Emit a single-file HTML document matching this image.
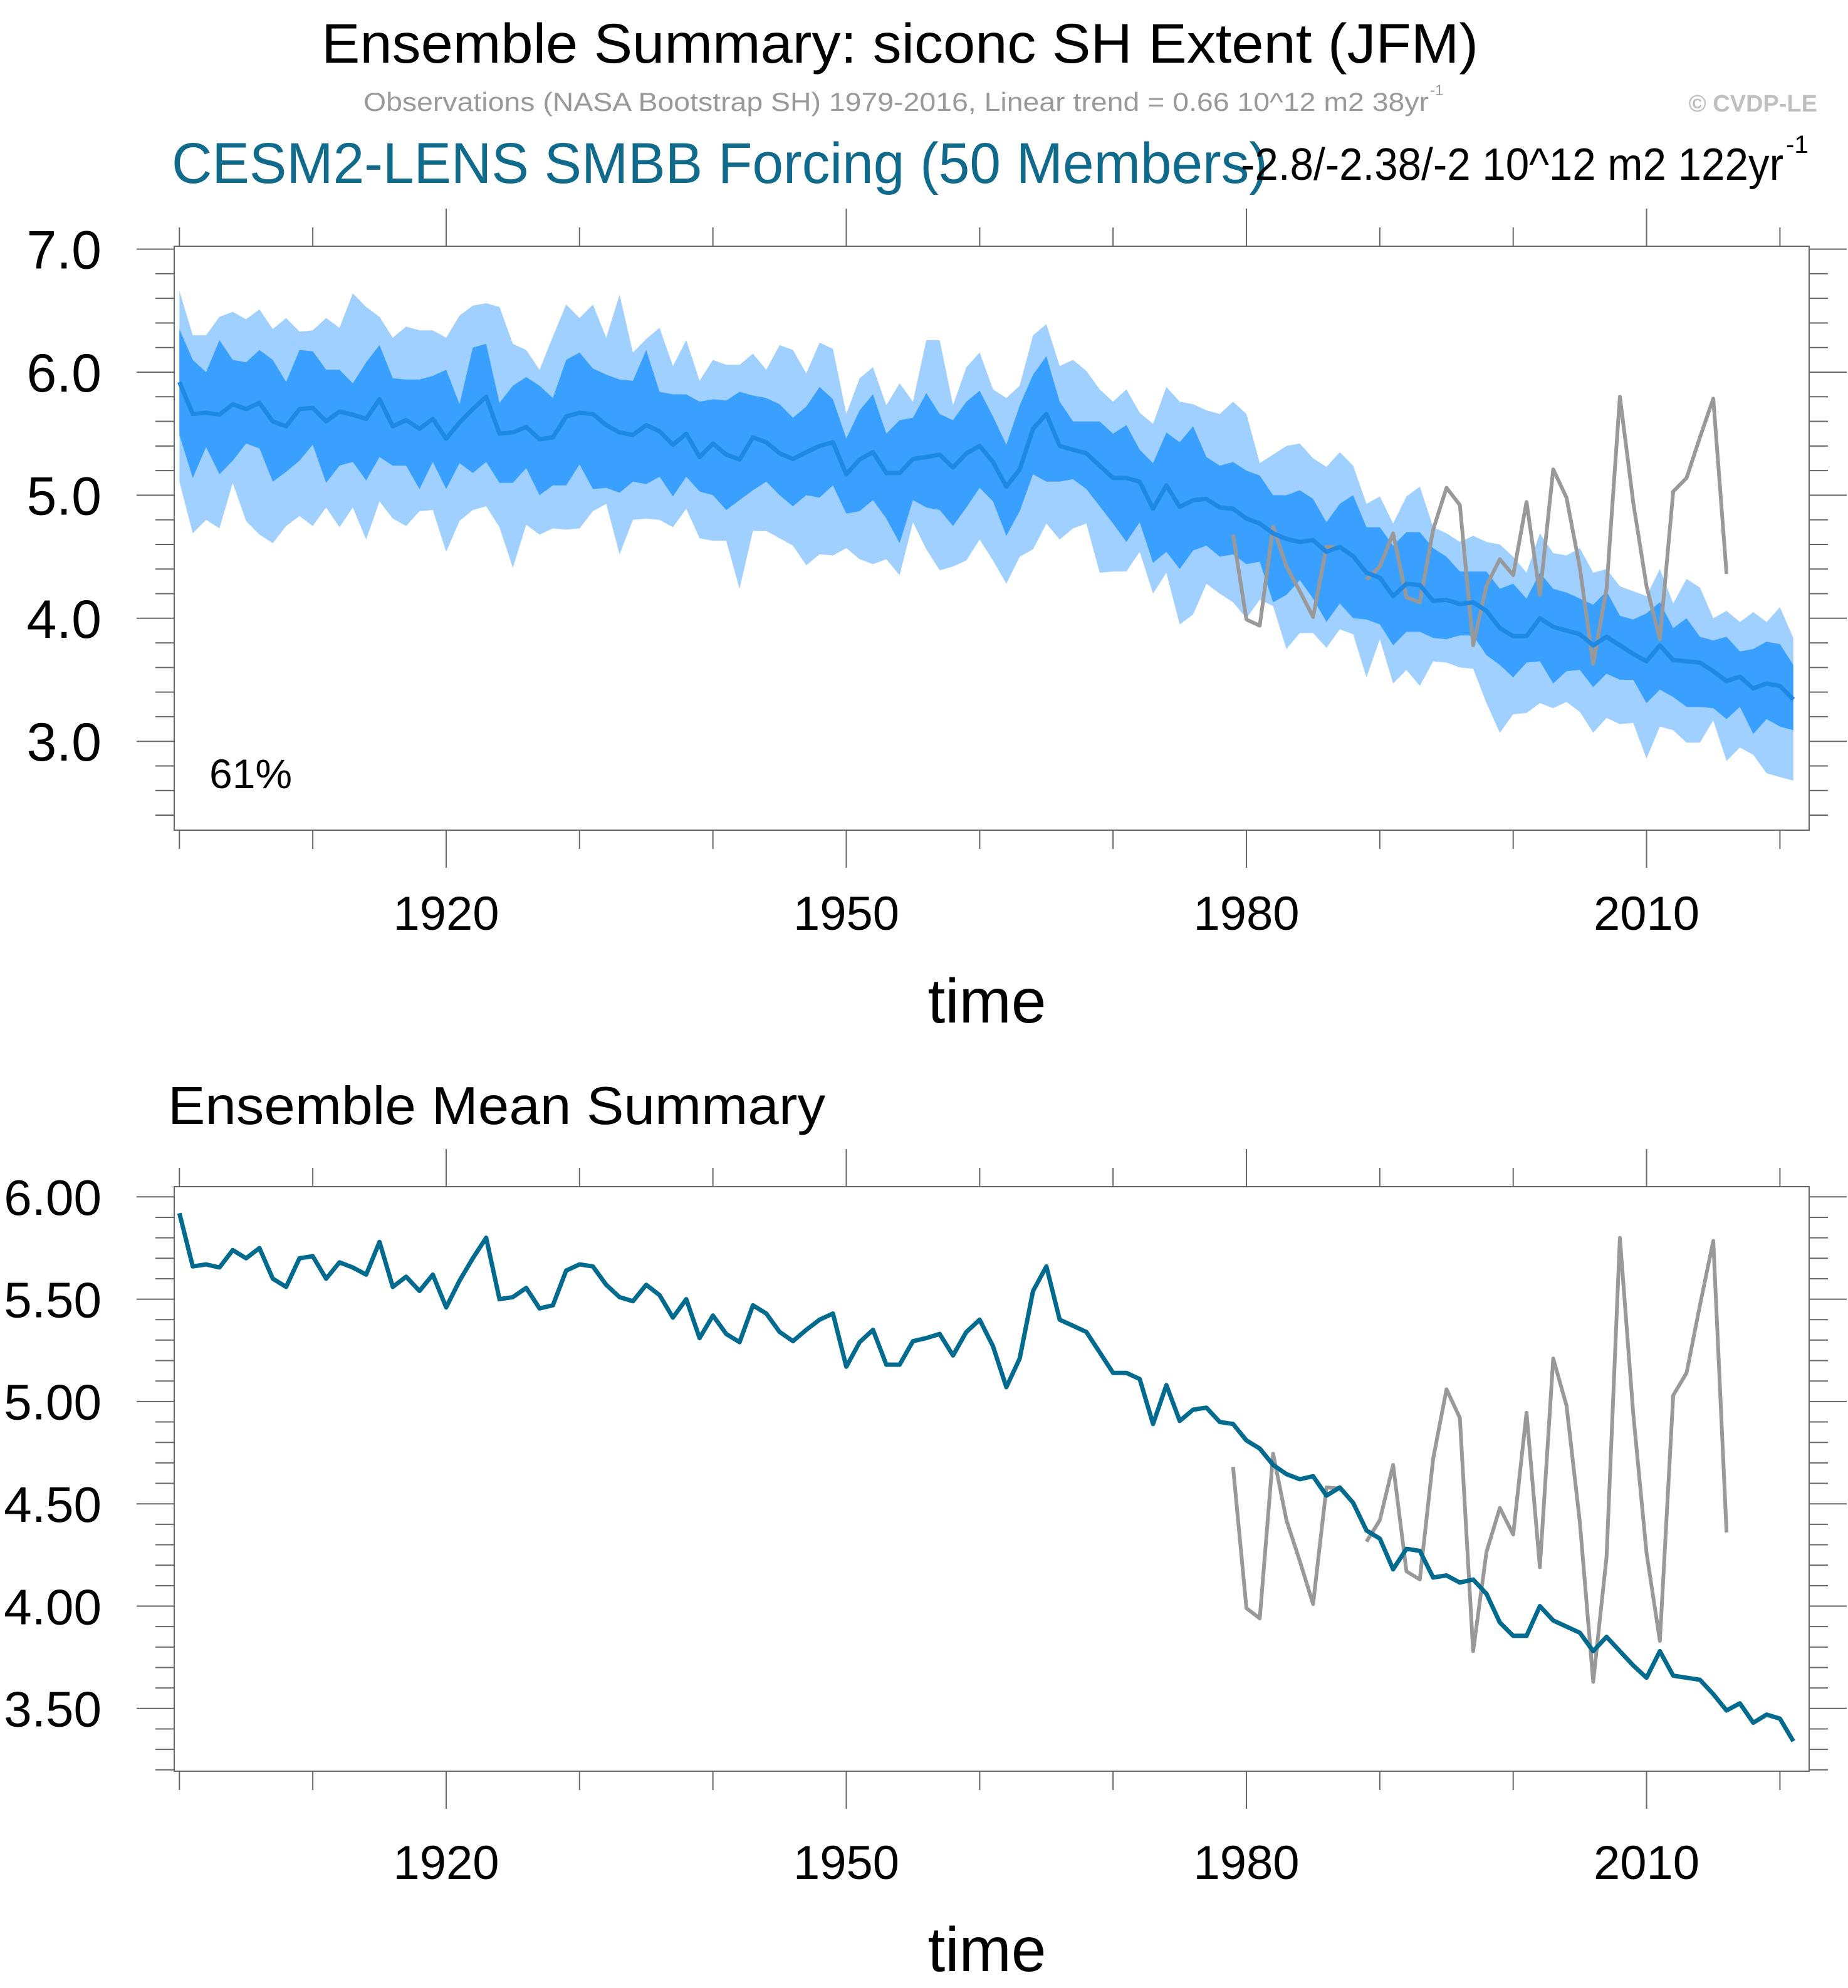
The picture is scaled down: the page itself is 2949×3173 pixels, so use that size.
<!DOCTYPE html>
<html><head><meta charset="utf-8"><title>Ensemble Summary: siconc SH Extent (JFM)</title>
<style>
html,body{margin:0;padding:0;background:#fff;}
svg{display:block;font-family:"Liberation Sans",Arial,sans-serif;}
</style></head>
<body>
<svg id="chart" width="2949" height="3173" viewBox="0 0 2949 3173" xmlns="http://www.w3.org/2000/svg">
  <rect x="0" y="0" width="2949" height="3173" fill="#fff"/>
  <text x="513" y="100" font-size="89" textLength="1846" lengthAdjust="spacingAndGlyphs" fill="#000">Ensemble Summary: siconc SH Extent (JFM)</text>
  <text x="580" y="177" font-size="42" fill="#999" textLength="1700" lengthAdjust="spacingAndGlyphs">Observations (NASA Bootstrap SH) 1979-2016, Linear trend = 0.66 10^12 m2 38yr</text>
  <text x="2282" y="152" font-size="24" fill="#999">-1</text>
  <text x="2900" y="178" font-size="38" font-weight="bold" fill="#c0c0c0" text-anchor="end">© CVDP-LE</text>
  <text x="274" y="292" font-size="92" fill="#0f6a8c" textLength="1749" lengthAdjust="spacingAndGlyphs">CESM2-LENS SMBB Forcing (50 Members)</text>
  <text x="1980" y="287" font-size="72" fill="#000" textLength="866" lengthAdjust="spacingAndGlyphs">-2.8/-2.38/-2 10^12 m2 122yr</text>
  <text x="2850" y="244" font-size="40" fill="#000">-1</text>
  <text x="268" y="1794" font-size="85" fill="#000" textLength="1049" lengthAdjust="spacingAndGlyphs">Ensemble Mean Summary</text>
  <g id="top-panel"></g>
  <g id="bottom-panel"></g>
</svg>
<script>
const years = [];
for (let y = 1900; y <= 2021; y++) years.push(y);
const ensMean = [5.92,5.66,5.67,5.655,5.74,5.70,5.75,5.60,5.56,5.70,5.71,5.60,5.68,5.655,5.62,5.78,5.56,5.61,5.54,5.62,
5.46,5.59,5.70,5.80,5.50,5.51,5.555,5.455,5.47,5.64,5.67,5.66,5.57,5.51,5.49,5.57,5.52,5.41,5.50,5.31,
5.42,5.33,5.29,5.47,5.43,5.34,5.295,5.35,5.40,5.43,5.17,5.29,5.35,5.18,5.18,5.295,5.31,5.33,5.225,5.34,
5.40,5.27,5.07,5.21,5.54,5.66,5.40,5.37,5.34,5.24,5.14,5.14,5.11,4.89,5.08,4.905,4.96,4.97,4.90,4.89,
4.81,4.77,4.69,4.645,4.62,4.635,4.54,4.58,4.505,4.37,4.33,4.18,4.28,4.27,4.14,4.15,4.115,4.13,4.06,3.92,
3.855,3.855,4.00,3.93,3.90,3.87,3.78,3.85,3.78,3.71,3.65,3.78,3.66,3.65,3.64,3.57,3.49,3.525,3.43,3.47,
3.45,3.34];
const lightHi = [6.66,6.30,6.30,6.45,6.49,6.43,6.51,6.35,6.44,6.33,6.34,6.44,6.36,6.64,6.53,6.45,6.28,6.37,6.34,6.34,
6.28,6.46,6.54,6.56,6.53,6.23,6.18,6.02,6.29,6.55,6.44,6.55,6.28,6.63,6.16,6.27,6.36,6.05,6.26,5.93,
6.10,6.06,6.06,6.15,6.02,6.22,6.18,5.99,6.24,6.19,5.66,5.95,6.04,5.73,5.91,5.76,6.26,6.26,5.73,6.04,
6.16,5.86,5.79,5.89,6.30,6.39,6.05,6.10,6.01,5.86,5.76,5.86,5.67,5.58,5.88,5.76,5.74,5.69,5.66,5.76,
5.66,5.26,5.33,5.40,5.42,5.30,5.23,5.35,5.24,4.93,4.99,4.77,4.99,5.07,4.74,4.69,4.62,4.67,4.62,4.60,
4.50,4.37,4.69,4.53,4.51,4.57,4.37,4.40,4.26,4.22,4.18,4.40,4.12,4.32,4.25,4.00,4.06,3.97,4.05,3.97,
4.09,3.84];
const darkHi = [6.35,6.10,6.00,6.26,6.10,6.08,6.18,6.10,5.92,6.18,6.17,6.02,6.02,5.91,6.08,6.22,5.95,5.94,5.94,5.97,
6.02,5.74,6.20,6.23,5.75,5.89,5.96,5.89,5.79,6.10,6.16,6.03,5.98,5.94,5.93,6.18,5.84,5.82,5.82,5.76,
5.78,5.77,5.84,5.81,5.79,5.74,5.63,5.72,5.88,5.78,5.46,5.69,5.82,5.50,5.61,5.63,5.83,5.66,5.61,5.76,
5.85,5.64,5.41,5.73,5.98,6.13,5.76,5.60,5.60,5.60,5.50,5.57,5.37,5.26,5.51,5.43,5.56,5.31,5.24,5.27,
5.20,5.16,5.00,5.00,5.04,4.97,4.78,4.93,5.00,4.74,4.74,4.59,4.70,4.70,4.57,4.50,4.38,4.38,4.38,4.24,
4.28,4.16,4.37,4.24,4.21,4.16,4.11,4.22,4.02,3.99,4.04,4.13,3.92,4.00,3.85,3.82,3.85,3.73,3.75,3.81,
3.79,3.62];
const darkLo = [5.49,5.14,5.39,5.17,5.28,5.42,5.38,5.11,5.19,5.28,5.41,5.10,5.24,5.27,5.12,5.31,5.24,5.24,5.05,5.27,
5.05,5.26,5.18,5.27,5.10,5.10,5.22,5.00,5.08,5.08,5.25,5.05,5.06,5.02,5.11,5.09,5.15,4.99,5.15,5.03,
5.00,4.88,4.96,5.04,5.11,5.00,4.91,5.00,4.98,5.08,4.85,4.87,4.96,4.81,4.61,4.96,4.90,4.88,4.75,4.90,
5.06,4.95,4.67,4.87,5.17,5.11,5.11,5.13,5.05,4.91,4.77,4.62,4.78,4.45,4.54,4.40,4.55,4.59,4.50,4.52,
4.44,4.46,4.13,4.19,4.31,4.16,3.97,4.12,4.00,3.99,3.95,3.78,3.89,3.89,3.84,3.83,3.86,3.86,3.70,3.62,
3.52,3.64,3.65,3.47,3.57,3.58,3.44,3.55,3.50,3.50,3.31,3.42,3.36,3.28,3.28,3.27,3.18,3.28,3.06,3.18,
3.12,3.09];
const lightLo = [5.11,4.69,4.80,4.73,5.10,4.79,4.68,4.61,4.75,4.83,4.75,4.90,4.74,4.90,4.64,4.95,4.81,4.75,4.87,4.88,
4.54,4.79,4.88,4.91,4.74,4.41,4.76,4.68,4.73,4.72,4.73,4.87,4.93,4.52,4.80,4.81,4.80,4.74,4.89,4.65,
4.63,4.63,4.24,4.71,4.71,4.65,4.59,4.43,4.52,4.51,4.57,4.48,4.44,4.48,4.35,4.78,4.56,4.39,4.42,4.47,
4.64,4.47,4.28,4.50,4.56,4.77,4.64,4.73,4.77,4.37,4.38,4.38,4.54,4.20,4.37,3.95,4.03,4.28,4.20,4.13,
4.00,4.15,4.10,3.75,3.88,3.88,3.76,3.91,3.87,3.52,3.83,3.47,3.58,3.45,3.65,3.64,3.60,3.59,3.31,3.07,
3.22,3.23,3.31,3.27,3.32,3.24,3.07,3.19,3.14,3.15,2.86,3.12,3.09,2.99,2.99,3.17,2.84,2.95,2.89,2.74,
2.71,2.68];
const obsYears = [];
for (let y = 1979; y <= 2016; y++) obsYears.push(y);
const obsValues = [4.68,3.99,3.94,4.745,4.42,4.22,4.01,4.58,4.575,null,4.315,4.42,4.69,4.17,4.13,4.72,5.06,4.92,3.78,4.265,
4.48,4.35,4.945,4.19,5.21,4.98,4.41,3.63,4.24,5.80,4.94,4.26,3.83,5.03,5.14,5.47,5.785,4.36];
const topYTicks = ["3.0","4.0","5.0","6.0","7.0"];
const bottomYTicks = ["3.50","4.00","4.50","5.00","5.50","6.00"];
const xTickLabels = ["1920","1950","1980","2010"];

const NS = "http://www.w3.org/2000/svg";
function mk(tag, attrs, parent) {
  const e = document.createElementNS(NS, tag);
  for (const k in attrs) e.setAttribute(k, attrs[k]);
  parent.appendChild(e);
  return e;
}
function xPos(yr) { return 286.3 + (yr - 1900) * 21.284; }
const BOX_L = 278, BOX_R = 2887;

function buildPanel(g, cfg) {
  const yPos = cfg.yPos;
  const box = mk('rect', {x: BOX_L, y: cfg.top, width: BOX_R - BOX_L, height: cfg.bottom - cfg.top, fill: 'none', stroke: '#666', 'stroke-width': 2}, g);
  
  
  for (let yr = 1900; yr <= 2020; yr += 10) {
    const major = xTickLabels.indexOf(String(yr)) >= 0;
    const len = major ? 60 : 30;
    const x = xPos(yr);
    const t1 = mk('line', {x1: x, x2: x, y1: cfg.top, y2: cfg.top - len, stroke: '#666', 'stroke-width': 2}, g);
    
    
    const t2 = mk('line', {x1: x, x2: x, y1: cfg.bottom, y2: cfg.bottom + len, stroke: '#666', 'stroke-width': 2}, g);
    
    
  }
  xTickLabels.forEach(lab => {
    const t = mk('text', {x: xPos(+lab), y: cfg.xLabelY, 'font-size': 76, 'text-anchor': 'middle', fill: '#000'}, g);
    t.textContent = lab;
    
    
  });
  const xt = mk('text', {x: 1575, y: cfg.xTitleY, 'font-size': 100, 'text-anchor': 'middle', fill: '#000'}, g);
  xt.textContent = 'time';
  
  
  for (let i = 0; ; i++) {
    const v = +(cfg.minorStart + i * cfg.minorStep).toFixed(3);
    if (v > cfg.minorEnd + 1e-6) break;
    const major = cfg.yLabels.some(l => Math.abs(+l - v) < 1e-6);
    const len = major ? 60 : 30;
    const y = yPos(v);
    const a = mk('line', {x1: BOX_L, x2: BOX_L - len, y1: y, y2: y, stroke: '#666', 'stroke-width': 2}, g);
    
    
    const b = mk('line', {x1: BOX_R, x2: BOX_R + len, y1: y, y2: y, stroke: '#666', 'stroke-width': 2}, g);
    
    
  }
  cfg.yLabels.forEach(lab => {
    const t = mk('text', {x: 162, y: yPos(+lab) + cfg.yFont * 0.36, 'font-size': cfg.yFont, 'text-anchor': 'end', fill: '#000'}, g);
    t.textContent = lab;
    
    
  });
}
function linePath(xs, vs, yPos) {
  let d = '', pen = false;
  for (let i = 0; i < xs.length; i++) {
    if (vs[i] === null || vs[i] === undefined) { pen = false; continue; }
    d += (pen ? 'L' : 'M') + xPos(xs[i]).toFixed(1) + ',' + yPos(vs[i]).toFixed(1);
    pen = true;
  }
  return d;
}
function bandPath(hi, lo, yPos) {
  let d = '';
  for (let i = 0; i < years.length; i++) d += (i ? 'L' : 'M') + xPos(years[i]).toFixed(1) + ',' + yPos(hi[i]).toFixed(1);
  for (let i = years.length - 1; i >= 0; i--) d += 'L' + xPos(years[i]).toFixed(1) + ',' + yPos(lo[i]).toFixed(1);
  return d + 'Z';
}

const topG = document.getElementById('top-panel');
const yTop = v => 397.6 + (7 - v) * 196.4;
const light = mk('path', {d: bandPath(lightHi, lightLo, yTop), fill: '#a0d0ff', stroke: 'none'}, topG);


const dark = mk('path', {d: bandPath(darkHi, darkLo, yTop), fill: '#3aa0ff', stroke: 'none'}, topG);


const obsTop = mk('path', {d: linePath(obsYears, obsValues, yTop), fill: 'none', stroke: '#999', 'stroke-width': 6, 'stroke-linejoin': 'round'}, topG);


const meanTop = mk('path', {d: linePath(years, ensMean, yTop), fill: 'none', stroke: '#1e88e5', 'stroke-width': 7, 'stroke-linejoin': 'round'}, topG);


buildPanel(topG, {top: 393, bottom: 1325, yPos: yTop, minorStart: 2.4, minorStep: 0.2, minorEnd: 7.0,
  yLabels: topYTicks, yFont: 86, xLabelY: 1484, xTitleY: 1632});
const pct = mk('text', {x: 334, y: 1258, 'font-size': 66, fill: '#000'}, topG);
pct.textContent = '61%';



const botG = document.getElementById('bottom-panel');
const yBot = v => 1910.3 + (6 - v) * 326.6;
const obsBot = mk('path', {d: linePath(obsYears, obsValues, yBot), fill: 'none', stroke: '#999', 'stroke-width': 6, 'stroke-linejoin': 'round'}, botG);


const meanBot = mk('path', {d: linePath(years, ensMean, yBot), fill: 'none', stroke: '#006b8f', 'stroke-width': 7, 'stroke-linejoin': 'round'}, botG);


buildPanel(botG, {top: 1894, bottom: 2827, yPos: yBot, minorStart: 3.2, minorStep: 0.1, minorEnd: 6.0,
  yLabels: bottomYTicks, yFont: 80, xLabelY: 2999, xTitleY: 3146});
</script>
</body></html>
